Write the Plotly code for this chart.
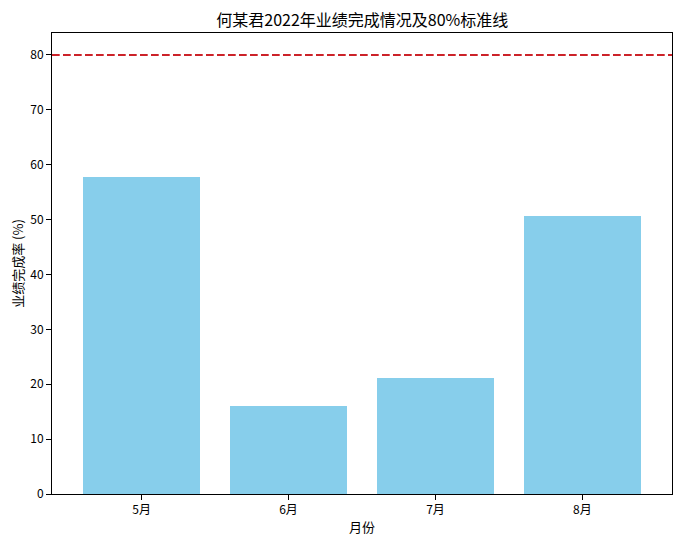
import plotly.graph_objects as go

months = ["5月", "6月", "7月", "8月"]
completion = [57.8, 16.1, 21.1, 50.7]
target = 80
y_ticks = [0, 10, 20, 30, 40, 50, 60, 70, 80]

FONT = "Noto Sans CJK SC, SimHei, sans-serif"

fig = go.Figure()
fig.add_trace(go.Bar(
    x=list(range(len(months))), y=completion,
    width=0.8, marker=dict(color="#87CEEB", line=dict(width=0)),
    showlegend=False,
))
fig.add_shape(type="line", xref="paper", yref="y", x0=0, x1=1, y0=target, y1=target,
              line=dict(color="#cc2229", width=2, dash="7.7px,3.3px"))

fig.update_layout(
    width=666, height=528,
    margin=dict(l=44, r=2, t=25, b=42),
    paper_bgcolor="white", plot_bgcolor="white",
    font=dict(family=FONT, size=13, color="black"),
    title=dict(text="何某君2022年业绩完成情况及80%标准线", x=0.532, xanchor="center",
               y=0.977, yanchor="middle", font=dict(size=16)),
    bargap=0,
)
fig.update_xaxes(
    range=[-0.61, 3.61], tickmode="array", tickvals=list(range(len(months))), ticktext=months,
    showgrid=False, zeroline=False, showline=True, linecolor="black", linewidth=1, mirror=True,
    ticks="outside", ticklen=5, tickcolor="black",
    title=dict(text="月份", standoff=6, font=dict(size=13)), tickfont=dict(size=12),
)
fig.update_yaxes(
    range=[0, 84], tickmode="array", tickvals=y_ticks,
    showgrid=False, zeroline=False, showline=True, linecolor="black", linewidth=1, mirror=True,
    ticks="outside", ticklen=5, tickcolor="black",
    title=dict(text="业绩完成率 (%)", standoff=6, font=dict(size=13)), tickfont=dict(size=12),
)
fig.write_html("out.html")
